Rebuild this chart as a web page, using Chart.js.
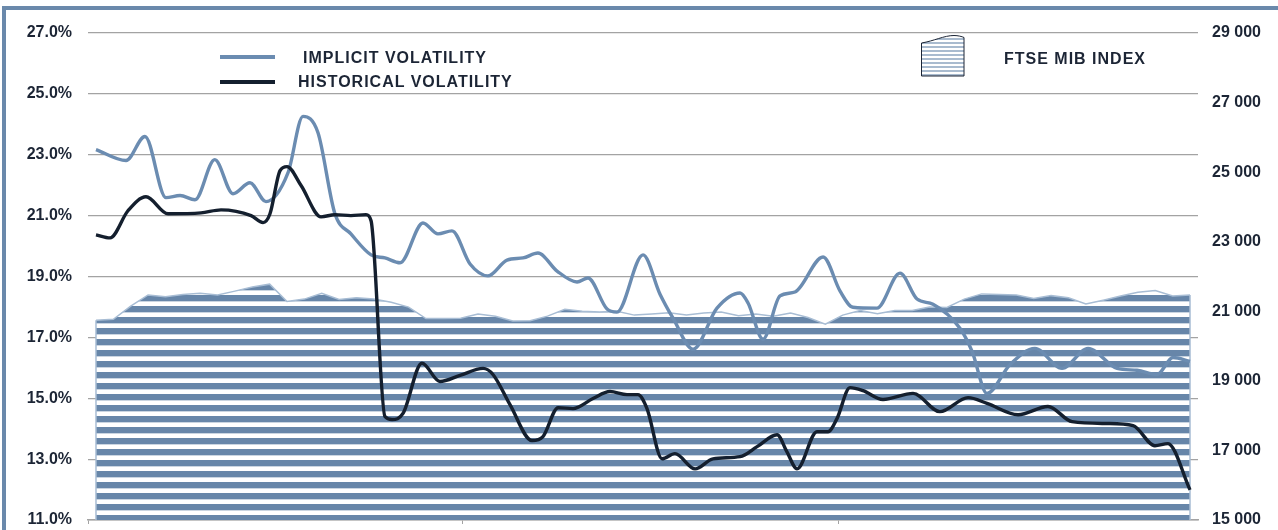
<!DOCTYPE html>
<html>
<head>
<meta charset="utf-8">
<script src="https://cdn.jsdelivr.net/npm/chart.js@4.4.1/dist/chart.umd.min.js"></script>
<style>
  html, body { margin: 0; padding: 0; background: #ffffff; }
  #wrap { position: relative; width: 1278px; height: 530px; overflow: hidden; }
  #frame { position: absolute; left: 2px; top: 6px; width: 1300px; height: 600px;
           border-left: 4px solid #6a89ab; border-top: 4px solid #6a89ab; box-sizing: border-box; }
  canvas#c { position: absolute; left: 0; top: 0; }
  .lg { position: absolute; font-family: "Liberation Sans", Arial, sans-serif; font-weight: bold;
        font-size: 16px; letter-spacing: 1px; color: #1c2535; height: 20px; line-height: 20px; white-space: nowrap; }
  .sw { position: absolute; height: 4px; }
</style>
</head>
<body>
<div id="wrap">
  <div id="frame"></div>
  <canvas id="c" width="1278" height="530"></canvas>
  <div id="legend"></div>
</div>
<script>
// ---- Data ----
// FTSE MIB weekly closes (week index 0..63)
const ftseIndex = [20740,20770,21150,21470,21420,21480,21520,21470,21580,21700,
                   21780,21280,21350,21520,21340,21390,21350,21260,21120,20790,
                   20790,20800,20920,20860,20720,20730,20860,21060,21000,20980,
                   21000,20890,20920,20960,20890,20950,20980,20870,20920,20860,
                   20950,20820,20630,20890,21020,20930,21020,21020,21120,21110,
                   21350,21500,21480,21470,21370,21450,21390,21210,21320,21440,
                   21550,21600,21440,21470];

// Implicit volatility: position in weeks and value in %
const ivWeek  = [0,1.73,2.82,4.03,4.84,5.70,6.84,7.89,8.87,9.79,
                 11.06,11.92,12.78,13.76,14.68,15.84,16.64,17.51,18.83,19.69,
                 20.50,21.54,22.57,23.67,24.59,25.45,26.55,27.70,28.33,29.43,
                 30.00,31.50,32.48,33.23,34.38,35.76,37.09,37.55,38.41,39.39,
                 40.25,41.87,42.85,43.59,44.97,46.30,47.28,48.20,49.75,50.45,
                 51.31,52.64,54.07,55.63,57.13,58.80,59.95,61.10,62.02,63];
const ivValue = [23.17,22.81,23.60,21.59,21.66,21.52,22.84,21.72,22.08,21.46,
                 22.41,24.26,23.73,21.06,20.40,19.71,19.61,19.45,20.76,20.40,
                 20.50,19.41,19.02,19.54,19.61,19.77,19.18,18.82,18.95,17.93,
                 17.83,19.71,18.42,17.63,16.61,17.96,18.46,18.13,16.94,18.36,
                 18.49,19.64,18.52,17.99,17.96,19.11,18.26,18.09,17.30,16.54,
                 15.16,16.11,16.64,15.98,16.64,15.98,15.92,15.78,16.34,16.21];

// Historical volatility: position in weeks and value in %
const hvWeek  = [0,0.81,1.84,2.88,4.15,6.05,7.20,8.93,9.62,10.02,
                 10.60,11.0,11.81,12.96,13.76,14.68,15.55,15.84,16.64,17.05,
                 17.68,18.77,19.81,20.96,22.29,22.86,23.84,25.11,25.74,26.61,
                 27.47,28.62,29.60,30.58,31.21,31.73,32.60,33.34,34.50,35.53,
                 37.09,38.07,39.22,39.79,40.37,41.52,42.15,42.67,43.42,44.17,
                 45.32,47.05,48.60,50.22,51.31,53.10,54.82,56.21,58.22,59.72,
                 60.98,61.73,63];
const hvValue = [20.37,20.27,21.16,21.62,21.06,21.09,21.19,21.0,20.77,21.06,
                 22.48,22.61,21.99,20.96,21.03,21.0,21.03,20.83,14.40,14.30,
                 14.50,16.15,15.55,15.75,15.98,15.78,14.79,13.61,13.74,14.69,
                 14.66,14.99,15.22,15.12,15.12,14.66,13.01,13.18,12.68,13.01,
                 13.08,13.41,13.80,13.24,12.68,13.90,13.90,14.33,15.35,15.25,
                 14.96,15.16,14.56,15.02,14.83,14.46,14.73,14.23,14.17,14.10,
                 13.44,13.51,11.99];

const xTickWeeks = [-0.46, 21.13, 42.73];
const xRange = [-0.46, 63.46];
const volRange = [11, 27, 2];
const ftseRange = [15000, 29000, 2000];
const seriesNames = ['IMPLICIT VOLATILITY', 'HISTORICAL VOLATILITY', 'FTSE MIB INDEX'];

// ---- Styles ----
const C_IV = '#6b8cb1', C_HV = '#141f2e', C_STRIPE = '#6786a9', C_AREA_EDGE = '#a8bdd4';
const C_TEXT = '#1c2535', C_GRID = '#a3a3a3';
const FONT = { family: '"Liberation Sans", Arial, sans-serif', size: 16, weight: 'bold' };

function stripePattern(ctx) {
  const pc = document.createElement('canvas');
  pc.width = 8; pc.height = 11;
  const p = pc.getContext('2d');
  p.fillStyle = '#ffffff'; p.fillRect(0, 0, 8, 11);
  p.fillStyle = C_STRIPE;
  p.fillRect(0, 0, 8, 4);
  p.fillStyle = 'rgba(103,134,169,0.35)'; p.fillRect(0, 4, 8, 1);
  p.fillStyle = C_STRIPE;
  p.fillRect(0, 9, 8, 2);
  return ctx.createPattern(pc, 'repeat');
}

const ctx = document.getElementById('c').getContext('2d');

const areaEdges = {
  id: 'areaEdges',
  afterDatasetDraw(chart, args) {
    if (args.index !== 2) return;
    const pts = args.meta.data;
    if (!pts.length) return;
    const c = chart.ctx, bottom = chart.chartArea.bottom;
    c.save();
    c.strokeStyle = C_AREA_EDGE; c.lineWidth = 1.5;
    [pts[0], pts[pts.length - 1]].forEach(p => {
      c.beginPath(); c.moveTo(p.x, p.y); c.lineTo(p.x, bottom); c.stroke();
    });
    c.restore();
  }
};

const fitY = w => s => { s.width = w; s.paddingTop = 0; s.paddingBottom = 0; };

const chart = new Chart(ctx, {
  type: 'line',
  data: {
    datasets: [
      {
        label: seriesNames[1],
        data: hvWeek.map((w, i) => ({ x: w, y: hvValue[i] })),
        yAxisID: 'y', borderColor: C_HV, backgroundColor: C_HV, borderWidth: 3.4,
        pointRadius: 0, cubicInterpolationMode: 'monotone', fill: false, order: 0
      },
      {
        label: seriesNames[0],
        data: ivWeek.map((w, i) => ({ x: w, y: ivValue[i] })),
        yAxisID: 'y', borderColor: C_IV, backgroundColor: C_IV, borderWidth: 3.4,
        pointRadius: 0, cubicInterpolationMode: 'monotone', fill: false, order: 1
      },
      {
        label: seriesNames[2],
        data: ftseIndex.map((v, i) => ({ x: i, y: v })),
        yAxisID: 'y1', borderColor: C_AREA_EDGE, backgroundColor: stripePattern(ctx),
        borderWidth: 1.5, pointRadius: 0, tension: 0, fill: 'start', order: 2
      }
    ]
  },
  options: {
    responsive: false,
    animation: false,
    layout: { padding: { top: 33, bottom: 0, left: 0, right: 0 } },
    plugins: { legend: { display: false }, tooltip: { enabled: false } },
    scales: {
      x: {
        type: 'linear', min: xRange[0], max: xRange[1],
        afterBuildTicks: s => { s.ticks = xTickWeeks.map(v => ({ value: v })); },
        afterFit: s => { s.height = 10; s.paddingLeft = 0; s.paddingRight = 0; },
        ticks: { display: false },
        grid: { display: true, drawOnChartArea: false, drawTicks: true, tickLength: 4, color: C_GRID, lineWidth: 1 },
        border: { display: true, color: C_GRID, width: 1.5 }
      },
      y: {
        position: 'left', min: volRange[0], max: volRange[1],
        ticks: { stepSize: volRange[2], padding: 16, color: C_TEXT, font: FONT,
                 callback: v => v.toFixed(1) + '%' },
        afterFit: fitY(88),
        grid: { color: C_GRID, lineWidth: 1.2, drawTicks: false },
        border: { display: false }
      },
      y1: {
        position: 'right', min: ftseRange[0], max: ftseRange[1],
        ticks: { stepSize: ftseRange[2], padding: 14, color: C_TEXT, font: FONT,
                 callback: v => String(v).replace(/\B(?=(\d{3})+(?!\d))/g, ' ') },
        afterFit: fitY(80),
        grid: { display: false, drawTicks: false },
        border: { display: false }
      }
    }
  },
  plugins: [areaEdges]
});

// ---- HTML legend built from the chart's datasets ----
(function buildLegend() {
  const lg = document.getElementById('legend');
  const byName = {};
  chart.data.datasets.forEach(d => byName[d.label] = d);
  const place = [
    { name: seriesNames[0], sw: [220, 55, 55], text: [303, 48] },
    { name: seriesNames[1], sw: [220, 80, 55], text: [298, 72] },
    { name: seriesNames[2], icon: [920, 34], text: [1004, 49] }
  ];
  place.forEach(p => {
    const ds = byName[p.name];
    if (p.sw) {
      const s = document.createElement('div');
      s.className = 'sw';
      s.style.left = p.sw[0] + 'px'; s.style.top = p.sw[1] + 'px'; s.style.width = p.sw[2] + 'px';
      s.style.background = ds.borderColor;
      lg.appendChild(s);
    }
    if (p.icon) {
      const ns = 'http://www.w3.org/2000/svg';
      const svg = document.createElementNS(ns, 'svg');
      svg.setAttribute('width', '46'); svg.setAttribute('height', '44');
      svg.style.position = 'absolute'; svg.style.left = p.icon[0] + 'px'; svg.style.top = p.icon[1] + 'px';
      svg.innerHTML =
        '<defs><pattern id="lgp" width="4" height="4" patternUnits="userSpaceOnUse">' +
        '<rect width="4" height="4" fill="#ffffff"/><rect width="4" height="2" fill="#a9bbcf"/></pattern></defs>' +
        '<path d="M1.5 9 C 14 7, 24 1.5, 34 1.5 C 38 1.5, 42 2.5, 44 3.5 L 44 42 L 1.5 42 Z" fill="url(#lgp)" stroke="#1c2535" stroke-width="1"/>';
      lg.appendChild(svg);
    }
    const t = document.createElement('div');
    t.className = 'lg';
    t.style.left = p.text[0] + 'px'; t.style.top = p.text[1] + 'px';
    t.textContent = ds.label;
    lg.appendChild(t);
  });
})();
</script>
</body>
</html>
